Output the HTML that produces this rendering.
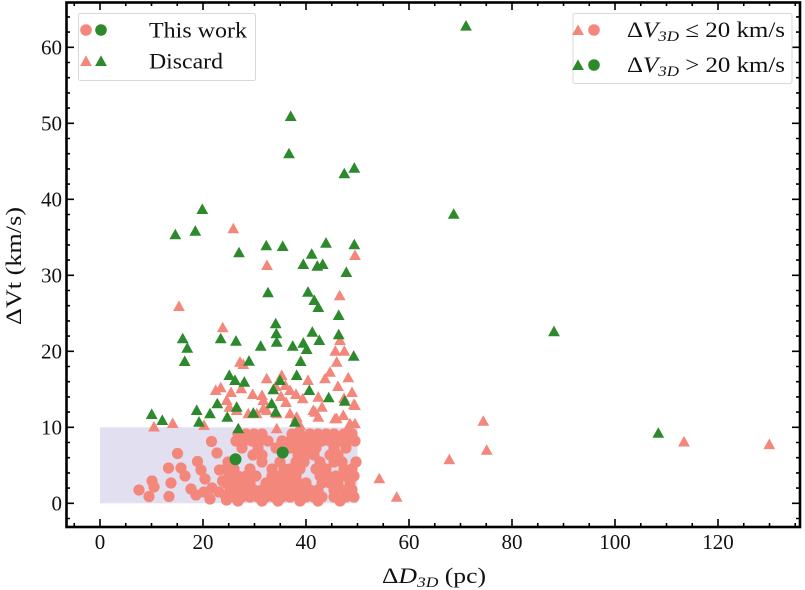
<!DOCTYPE html>
<html><head><meta charset="utf-8"><style>
html,body{margin:0;padding:0;background:#fff;}
svg{display:block;}
text{font-family:"Liberation Serif","DejaVu Serif",serif;fill:#111;}
</style></head><body>
<svg width="805" height="590" viewBox="0 0 805 590" xmlns="http://www.w3.org/2000/svg">
<defs>
<path id="tp" d="M0 -5.6 L-5.9 5 L5.9 5 Z" fill="#f4877c"/>
<path id="tg" d="M0 -5.6 L-5.9 5 L5.9 5 Z" fill="#2c8a2c"/>
</defs>
<rect width="805" height="590" fill="#fff"/>
<rect x="100" y="427.3" width="257.5" height="76" fill="#e2e0f0"/>

<g fill="#f4877c">
<circle cx="139" cy="490" r="5.6"/><circle cx="149" cy="496.5" r="5.6"/><circle cx="152" cy="481" r="5.6"/><circle cx="154" cy="487" r="5.6"/>
<circle cx="168.5" cy="468" r="5.6"/><circle cx="177.5" cy="453.5" r="5.6"/><circle cx="181" cy="468" r="5.6"/><circle cx="171" cy="483" r="5.6"/>
<circle cx="169" cy="496.5" r="5.6"/><circle cx="185" cy="476" r="5.6"/><circle cx="191" cy="489" r="5.6"/><circle cx="197.5" cy="461.5" r="5.6"/>
<circle cx="201" cy="470" r="5.6"/><circle cx="205" cy="479" r="5.6"/><circle cx="211.5" cy="441.5" r="5.6"/><circle cx="217" cy="453" r="5.6"/>
<circle cx="210" cy="499" r="5.6"/><circle cx="219.5" cy="470" r="5.6"/><circle cx="222.5" cy="481" r="5.6"/><circle cx="219" cy="492" r="5.6"/>
<circle cx="226.5" cy="500" r="5.6"/><circle cx="196" cy="495" r="5.6"/><circle cx="204" cy="492" r="5.6"/><circle cx="212" cy="488" r="5.6"/>
<circle cx="228" cy="478" r="5.6"/><circle cx="232" cy="472" r="5.6"/><circle cx="238" cy="484" r="5.6"/>
<circle cx="238" cy="434" r="5.6"/><circle cx="246" cy="434" r="5.6"/><circle cx="254" cy="434" r="5.6"/><circle cx="262" cy="434" r="5.6"/>
<circle cx="292" cy="434" r="5.6"/><circle cx="300" cy="434" r="5.6"/><circle cx="310" cy="434" r="5.6"/><circle cx="318" cy="434" r="5.6"/><circle cx="326" cy="434" r="5.6"/><circle cx="334" cy="434" r="5.6"/><circle cx="344" cy="434" r="5.6"/><circle cx="352" cy="434" r="5.6"/>
<circle cx="236" cy="441" r="5.6"/><circle cx="244" cy="441" r="5.6"/><circle cx="252" cy="441" r="5.6"/><circle cx="260" cy="441" r="5.6"/><circle cx="268" cy="441" r="5.6"/>
<circle cx="282" cy="441" r="5.6"/><circle cx="290" cy="441" r="5.6"/><circle cx="298" cy="441" r="5.6"/><circle cx="306" cy="441" r="5.6"/><circle cx="314" cy="441" r="5.6"/><circle cx="322" cy="441" r="5.6"/><circle cx="330" cy="441" r="5.6"/><circle cx="340" cy="441" r="5.6"/><circle cx="348" cy="441" r="5.6"/><circle cx="355" cy="441" r="5.6"/>
<circle cx="242" cy="448" r="5.6"/><circle cx="258" cy="448" r="5.6"/><circle cx="276" cy="448" r="5.6"/><circle cx="290" cy="448" r="5.6"/><circle cx="300" cy="448" r="5.6"/><circle cx="308" cy="448" r="5.6"/><circle cx="316" cy="448" r="5.6"/><circle cx="334" cy="448" r="5.6"/><circle cx="346" cy="448" r="5.6"/>
<circle cx="253" cy="455" r="5.6"/><circle cx="262" cy="455" r="5.6"/><circle cx="298" cy="455" r="5.6"/><circle cx="306" cy="455" r="5.6"/><circle cx="314" cy="455" r="5.6"/><circle cx="330" cy="455" r="5.6"/><circle cx="338" cy="455" r="5.6"/>
<circle cx="228" cy="462" r="5.6"/><circle cx="262" cy="462" r="5.6"/><circle cx="280" cy="462" r="5.6"/><circle cx="296" cy="462" r="5.6"/><circle cx="304" cy="462" r="5.6"/><circle cx="320" cy="462" r="5.6"/><circle cx="334" cy="462" r="5.6"/><circle cx="342" cy="462" r="5.6"/><circle cx="356" cy="462" r="5.6"/>
<circle cx="226" cy="469" r="5.6"/><circle cx="234" cy="469" r="5.6"/><circle cx="250" cy="469" r="5.6"/><circle cx="272" cy="469" r="5.6"/><circle cx="284" cy="469" r="5.6"/><circle cx="290" cy="469" r="5.6"/><circle cx="300" cy="469" r="5.6"/><circle cx="316" cy="469" r="5.6"/><circle cx="326" cy="469" r="5.6"/><circle cx="344" cy="469" r="5.6"/><circle cx="352" cy="469" r="5.6"/>
<circle cx="230" cy="476" r="5.6"/><circle cx="238" cy="476" r="5.6"/><circle cx="246" cy="476" r="5.6"/><circle cx="256" cy="476" r="5.6"/><circle cx="272" cy="476" r="5.6"/><circle cx="280" cy="476" r="5.6"/><circle cx="288" cy="476" r="5.6"/><circle cx="296" cy="476" r="5.6"/><circle cx="320" cy="476" r="5.6"/><circle cx="328" cy="476" r="5.6"/><circle cx="336" cy="476" r="5.6"/><circle cx="346" cy="476" r="5.6"/><circle cx="354" cy="476" r="5.6"/>
<circle cx="226" cy="483" r="5.6"/><circle cx="234" cy="483" r="5.6"/><circle cx="242" cy="483" r="5.6"/><circle cx="250" cy="483" r="5.6"/><circle cx="266" cy="483" r="5.6"/><circle cx="274" cy="483" r="5.6"/><circle cx="282" cy="483" r="5.6"/><circle cx="290" cy="483" r="5.6"/><circle cx="298" cy="483" r="5.6"/><circle cx="306" cy="483" r="5.6"/><circle cx="322" cy="483" r="5.6"/><circle cx="330" cy="483" r="5.6"/><circle cx="338" cy="483" r="5.6"/><circle cx="350" cy="483" r="5.6"/>
<circle cx="230" cy="490" r="5.6"/><circle cx="238" cy="490" r="5.6"/><circle cx="246" cy="490" r="5.6"/><circle cx="254" cy="490" r="5.6"/><circle cx="262" cy="490" r="5.6"/><circle cx="270" cy="490" r="5.6"/><circle cx="278" cy="490" r="5.6"/><circle cx="286" cy="490" r="5.6"/><circle cx="294" cy="490" r="5.6"/><circle cx="302" cy="490" r="5.6"/><circle cx="310" cy="490" r="5.6"/><circle cx="318" cy="490" r="5.6"/><circle cx="334" cy="490" r="5.6"/><circle cx="342" cy="490" r="5.6"/><circle cx="352" cy="490" r="5.6"/>
<circle cx="226" cy="497" r="5.6"/><circle cx="234" cy="497" r="5.6"/><circle cx="242" cy="497" r="5.6"/><circle cx="250" cy="497" r="5.6"/><circle cx="258" cy="497" r="5.6"/><circle cx="266" cy="497" r="5.6"/><circle cx="274" cy="497" r="5.6"/><circle cx="282" cy="497" r="5.6"/><circle cx="290" cy="497" r="5.6"/><circle cx="298" cy="497" r="5.6"/><circle cx="306" cy="497" r="5.6"/><circle cx="314" cy="497" r="5.6"/><circle cx="322" cy="497" r="5.6"/><circle cx="334" cy="497" r="5.6"/><circle cx="346" cy="497" r="5.6"/><circle cx="354" cy="497" r="5.6"/>
<circle cx="238" cy="501" r="5.6"/><circle cx="262" cy="501" r="5.6"/><circle cx="278" cy="501" r="5.6"/><circle cx="300" cy="501" r="5.6"/><circle cx="318" cy="501" r="5.6"/><circle cx="340" cy="501" r="5.6"/>
</g>
<g fill="#2c8a2c">
<circle cx="235.5" cy="459.3" r="6"/><circle cx="282.7" cy="452.5" r="6"/>
</g>

<g>
<use href="#tp" x="154" y="426.5"/><use href="#tp" x="172.7" y="423"/><use href="#tp" x="204" y="425"/><use href="#tp" x="233.3" y="228.3"/>
<use href="#tp" x="267" y="265"/><use href="#tp" x="179" y="306"/><use href="#tp" x="222.7" y="327.3"/><use href="#tp" x="339.7" y="295.3"/>
<use href="#tp" x="340" y="340"/><use href="#tp" x="335.3" y="350.7"/><use href="#tp" x="344.3" y="350.7"/><use href="#tp" x="336.7" y="361.7"/>
<use href="#tp" x="355" y="255"/><use href="#tp" x="240" y="361.7"/><use href="#tp" x="243.3" y="364"/><use href="#tp" x="241.3" y="388.3"/>
<use href="#tp" x="266.7" y="378.3"/><use href="#tp" x="281.7" y="375"/><use href="#tp" x="285.3" y="385"/><use href="#tp" x="330" y="371.7"/>
<use href="#tp" x="325" y="378.3"/><use href="#tp" x="348.3" y="377.3"/><use href="#tp" x="215.7" y="390"/><use href="#tp" x="220.7" y="387.3"/>
<use href="#tp" x="275.7" y="386"/><use href="#tp" x="262" y="395"/><use href="#tp" x="252.7" y="394"/><use href="#tp" x="263.3" y="400"/>
<use href="#tp" x="302.7" y="398.3"/><use href="#tp" x="318.3" y="396.7"/><use href="#tp" x="313.3" y="410"/><use href="#tp" x="322" y="406.7"/>
<use href="#tp" x="354" y="404"/><use href="#tp" x="226.7" y="400"/><use href="#tp" x="229.3" y="406.7"/><use href="#tp" x="256.7" y="413.3"/>
<use href="#tp" x="266.7" y="410"/><use href="#tp" x="276.7" y="413.3"/><use href="#tp" x="236.7" y="410"/><use href="#tp" x="248.3" y="413.3"/>
<use href="#tp" x="263.3" y="408.3"/><use href="#tp" x="276.7" y="428.3"/><use href="#tp" x="290" y="413.3"/><use href="#tp" x="296.7" y="416.7"/>
<use href="#tp" x="300" y="425"/><use href="#tp" x="315" y="411.7"/><use href="#tp" x="318.3" y="416.7"/><use href="#tp" x="335" y="418.3"/>
<use href="#tp" x="343.3" y="415"/><use href="#tp" x="348.3" y="426.7"/><use href="#tp" x="355" y="423.3"/><use href="#tp" x="355" y="405"/>
<use href="#tp" x="336.7" y="418.3"/><use href="#tp" x="350" y="423.3"/><use href="#tp" x="290" y="390"/><use href="#tp" x="296" y="394"/>
<use href="#tp" x="308" y="380"/><use href="#tp" x="338" y="386"/><use href="#tp" x="352" y="392"/><use href="#tp" x="344" y="398"/>
<use href="#tp" x="231" y="392"/><use href="#tp" x="281" y="396"/><use href="#tp" x="286" y="402"/>
<use href="#tp" x="379.3" y="478.3"/><use href="#tp" x="396.7" y="496.7"/><use href="#tp" x="483.3" y="420.8"/><use href="#tp" x="486.7" y="449.8"/>
<use href="#tp" x="449.3" y="459.2"/><use href="#tp" x="684" y="441.5"/><use href="#tp" x="769.3" y="444.1"/>
</g>
<g>
<use href="#tg" x="290.7" y="116"/><use href="#tg" x="289" y="153.3"/><use href="#tg" x="344.3" y="173.3"/><use href="#tg" x="354.3" y="167.7"/>
<use href="#tg" x="202.3" y="209"/><use href="#tg" x="175.3" y="234.3"/><use href="#tg" x="195.3" y="230.7"/><use href="#tg" x="239" y="252.3"/>
<use href="#tg" x="266.3" y="245.3"/><use href="#tg" x="282.7" y="246"/><use href="#tg" x="326" y="242.7"/><use href="#tg" x="354.3" y="244.3"/>
<use href="#tg" x="311.7" y="253.7"/><use href="#tg" x="303.3" y="264"/><use href="#tg" x="317.3" y="265.7"/><use href="#tg" x="322.7" y="264"/>
<use href="#tg" x="346.3" y="272"/><use href="#tg" x="268" y="292.3"/><use href="#tg" x="308" y="291.7"/><use href="#tg" x="314.3" y="300"/>
<use href="#tg" x="318.3" y="307"/><use href="#tg" x="338.7" y="315"/><use href="#tg" x="275.7" y="323.3"/><use href="#tg" x="182.7" y="338.3"/>
<use href="#tg" x="187.3" y="347.7"/><use href="#tg" x="184.7" y="361"/><use href="#tg" x="220.7" y="338.3"/><use href="#tg" x="236" y="340.7"/>
<use href="#tg" x="260.7" y="345.7"/><use href="#tg" x="276.3" y="333.3"/><use href="#tg" x="276.7" y="341.7"/><use href="#tg" x="292.7" y="345.7"/>
<use href="#tg" x="312.3" y="331.7"/><use href="#tg" x="303.3" y="342.7"/><use href="#tg" x="306.7" y="349"/><use href="#tg" x="319.3" y="340"/>
<use href="#tg" x="338.7" y="334.3"/><use href="#tg" x="353.7" y="355.7"/><use href="#tg" x="300.7" y="361"/><use href="#tg" x="249" y="360.7"/>
<use href="#tg" x="229.3" y="375"/><use href="#tg" x="235" y="380"/><use href="#tg" x="244.3" y="381.7"/><use href="#tg" x="280" y="380"/>
<use href="#tg" x="296.7" y="375"/><use href="#tg" x="273.3" y="389.3"/><use href="#tg" x="309.3" y="390"/><use href="#tg" x="328.7" y="397.3"/>
<use href="#tg" x="344.7" y="400.7"/><use href="#tg" x="217.3" y="403.3"/><use href="#tg" x="236.7" y="406.7"/><use href="#tg" x="196.7" y="410"/>
<use href="#tg" x="210" y="413.3"/><use href="#tg" x="151.7" y="414"/><use href="#tg" x="162.3" y="420"/><use href="#tg" x="227.3" y="416.7"/>
<use href="#tg" x="199" y="421.7"/><use href="#tg" x="238.3" y="428.3"/><use href="#tg" x="253.3" y="412.7"/><use href="#tg" x="271.7" y="403.3"/>
<use href="#tg" x="275.7" y="411.7"/><use href="#tg" x="295" y="421.7"/>
<use href="#tg" x="466" y="25.6"/><use href="#tg" x="453.7" y="213.8"/><use href="#tg" x="554" y="331.2"/><use href="#tg" x="658.3" y="432.8"/>
</g>

<g stroke="#000" stroke-width="1.6" fill="none">
<path d="M100 527v-8M203 527v-8M306 527v-8M409 527v-8M512 527v-8M615 527v-8M718 527v-8
M100 2v8M203 2v8M306 2v8M409 2v8M512 2v8M615 2v8M718 2v8"/>
<path d="M74.25 527v-4M125.75 527v-4M151.5 527v-4M177.25 527v-4M228.75 527v-4M254.5 527v-4M280.25 527v-4M331.75 527v-4M357.5 527v-4M383.25 527v-4M434.75 527v-4M460.5 527v-4M486.25 527v-4M537.75 527v-4M563.5 527v-4M589.25 527v-4M640.75 527v-4M666.5 527v-4M692.25 527v-4M743.75 527v-4M769.5 527v-4M795.25 527v-4
M74.25 2v4M125.75 2v4M151.5 2v4M177.25 2v4M228.75 2v4M254.5 2v4M280.25 2v4M331.75 2v4M357.5 2v4M383.25 2v4M434.75 2v4M460.5 2v4M486.25 2v4M537.75 2v4M563.5 2v4M589.25 2v4M640.75 2v4M666.5 2v4M692.25 2v4M743.75 2v4M769.5 2v4M795.25 2v4"/>
<path d="M66 503.3h8M66 427.3h8M66 351.3h8M66 275.3h8M66 199.3h8M66 123.3h8M66 47.3h8
M800 503.3h-8M800 427.3h-8M800 351.3h-8M800 275.3h-8M800 199.3h-8M800 123.3h-8M800 47.3h-8"/>
<path d="M66 518.5h4M66 488.1h4M66 472.9h4M66 457.7h4M66 442.5h4M66 412.1h4M66 396.9h4M66 381.7h4M66 366.5h4M66 336.1h4M66 320.9h4M66 305.7h4M66 290.5h4M66 260.1h4M66 244.9h4M66 229.7h4M66 214.5h4M66 184.1h4M66 168.9h4M66 153.7h4M66 138.5h4M66 108.1h4M66 92.9h4M66 77.7h4M66 62.5h4M66 32.1h4M66 16.9h4
M800 518.5h-4M800 488.1h-4M800 472.9h-4M800 457.7h-4M800 442.5h-4M800 412.1h-4M800 396.9h-4M800 381.7h-4M800 366.5h-4M800 336.1h-4M800 320.9h-4M800 305.7h-4M800 290.5h-4M800 260.1h-4M800 244.9h-4M800 229.7h-4M800 214.5h-4M800 184.1h-4M800 168.9h-4M800 153.7h-4M800 138.5h-4M800 108.1h-4M800 92.9h-4M800 77.7h-4M800 62.5h-4M800 32.1h-4M800 16.9h-4"/>
</g>
<rect x="66.5" y="2.5" width="733.5" height="524.5" fill="none" stroke="#000" stroke-width="2.6"/>

<g font-size="21" text-anchor="middle">
<text x="100" y="549">0</text><text x="203" y="549">20</text><text x="306" y="549">40</text><text x="409" y="549">60</text>
<text x="512" y="549">80</text><text x="615" y="549">100</text><text x="718" y="549">120</text>
</g>
<g font-size="21" text-anchor="end">
<text x="62" y="510.5">0</text><text x="62" y="434.5">10</text><text x="62" y="358.5">20</text><text x="62" y="282.5">30</text>
<text x="62" y="206.5">40</text><text x="62" y="130.5">50</text><text x="62" y="54.5">60</text>
</g>

<text x="382" y="583" font-size="22" textLength="104" lengthAdjust="spacingAndGlyphs">Δ<tspan font-style="italic">D</tspan><tspan font-style="italic" font-size="15" dy="4">3D</tspan><tspan dy="-4"> (pc)</tspan></text>
<text transform="translate(21,325) rotate(-90)" x="0" y="0" font-size="22" textLength="118" lengthAdjust="spacingAndGlyphs">ΔVt (km/s)</text>

<rect x="78.5" y="13.5" width="177" height="67" rx="2" fill="#fff" fill-opacity="0.85" stroke="#d8d8d8" stroke-width="1"/>
<circle cx="86" cy="30" r="5.8" fill="#f4877c"/><circle cx="101" cy="30" r="5.8" fill="#2c8a2c"/>
<use href="#tp" x="86" y="61"/><use href="#tg" x="101" y="61"/>
<text x="149" y="37.5" font-size="22" textLength="98" lengthAdjust="spacingAndGlyphs">This work</text>
<text x="149" y="68.5" font-size="22" textLength="74" lengthAdjust="spacingAndGlyphs">Discard</text>

<rect x="573" y="13.5" width="219" height="70" rx="2" fill="#fff" fill-opacity="0.85" stroke="#d8d8d8" stroke-width="1"/>
<use href="#tp" x="578" y="30"/><circle cx="594" cy="30" r="5.8" fill="#f4877c"/>
<use href="#tg" x="578" y="65"/><circle cx="594" cy="65" r="5.8" fill="#2c8a2c"/>
<text x="627" y="37" font-size="22" textLength="158" lengthAdjust="spacingAndGlyphs">Δ<tspan font-style="italic">V</tspan><tspan font-style="italic" font-size="15" dy="4">3D</tspan><tspan dy="-4"> ≤ 20 km/s</tspan></text>
<text x="627" y="72" font-size="22" textLength="158" lengthAdjust="spacingAndGlyphs">Δ<tspan font-style="italic">V</tspan><tspan font-style="italic" font-size="15" dy="4">3D</tspan><tspan dy="-4"> &gt; 20 km/s</tspan></text>
</svg>
</body></html>
